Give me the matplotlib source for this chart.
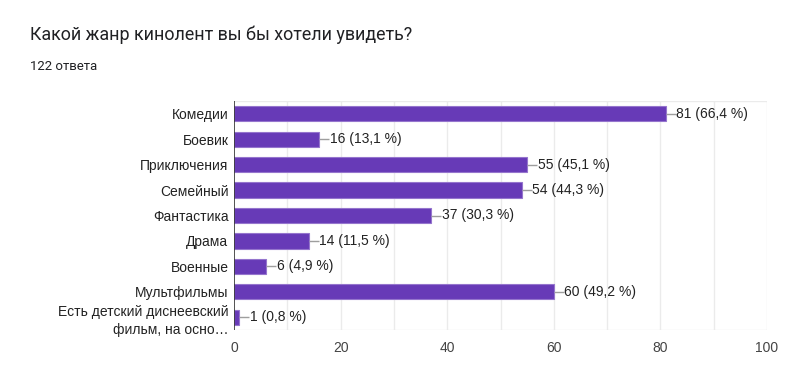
import matplotlib
matplotlib.use("Agg")
import matplotlib.pyplot as plt

categories = ["Комедии", "Боевик", "Приключения", "Семейный", "Фантастика",
              "Драма", "Военные", "Мультфильмы",
              "Есть детский диснеевский\nфильм, на осно…"]
values = [81, 16, 55, 54, 37, 14, 6, 60, 1]
percents = ["66,4", "13,1", "45,1", "44,3", "30,3", "11,5", "4,9", "49,2", "0,8"]
xticks = [0, 20, 40, 60, 80, 100]
title = "Какой жанр кинолент вы бы хотели увидеть?"
subtitle = "122 ответа"

W, H = 795, 375
fig = plt.figure(figsize=(W / 100, H / 100), dpi=100)
fig.patch.set_facecolor("white")

left, right, top, bottom = 234, 767, 101, 330
ax = fig.add_axes([left / W, 1 - bottom / H, (right - left) / W, (bottom - top) / H])

n = len(categories)
ypos = list(range(n))
ax.set_ylim(n - 0.5, -0.5)
ax.set_xlim(0, 100)

for x in range(10, 101, 10):
    ax.axvline(x, color="#ebebeb", lw=1, zorder=0)
ax.axhline(-0.5, color="#ebebeb", lw=1, zorder=0)
ax.axhline(n - 0.5, color="#ebebeb", lw=1, zorder=0)

ax.barh(ypos, values, height=0.6, color="#673ab7", edgecolor="#9575cd", lw=0.8, zorder=2)

fs = 10
px_per_unit = (right - left) / 100
for y, v, p in zip(ypos, values, percents):
    gap = 10 / px_per_unit
    ax.plot([v, v + gap], [y, y], color="#9e9e9e", lw=1, zorder=3, solid_capstyle="butt")
    ax.text(v + gap + 0.1, y, f"{v} ({p} %)", va="center", ha="left",
            fontsize=fs, color="#222222", family="Liberation Sans")

ax.axvline(0, color="#333333", lw=1.2, zorder=4)

ax.set_yticks(ypos)
ax.set_yticklabels(categories, fontsize=fs, color="#222222", family="Liberation Sans",
                   linespacing=1.35)
ax.set_xticks(xticks)
ax.set_xticklabels([str(t) for t in xticks], fontsize=fs, color="#444444",
                   family="Liberation Sans")
ax.tick_params(axis="both", length=0)
ax.tick_params(axis="y", pad=4)
ax.tick_params(axis="x", pad=8)
for s in ax.spines.values():
    s.set_visible(False)

fig.text(30 / W, 1 - 35 / H, title, fontsize=12.9, color="#202124", family="Roboto",
         va="center", ha="left")
fig.text(30 / W, 1 - 66 / H, subtitle, fontsize=9.5, color="#202124", family="Roboto",
         va="center", ha="left")

fig.savefig("out.png", dpi=100, facecolor="white")
